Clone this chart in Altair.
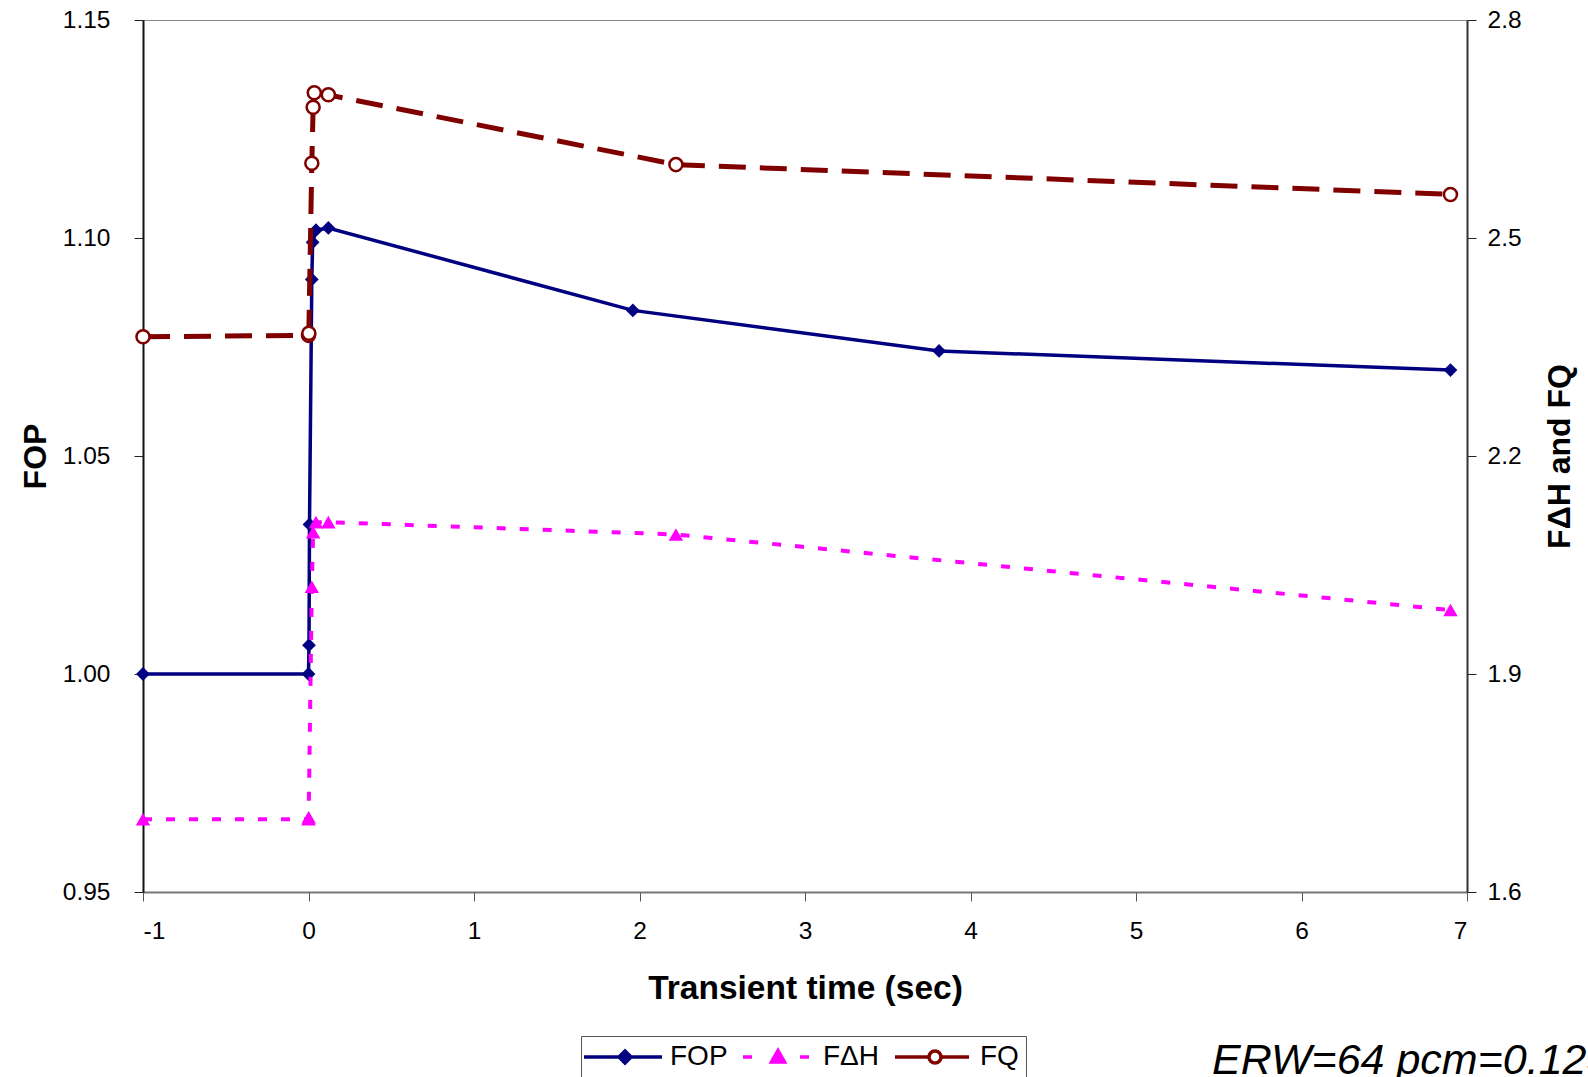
import altair as alt
import pandas as pd

# Transient time (s) and FOP, plotted on the left axis
fop_t = [-1, 0, 0.003, 0.006, 0.02, 0.025, 0.045, 0.12, 1.96, 3.81, 6.90]
fop_v = [1.000, 1.000, 1.0066, 1.0343, 1.0905, 1.0990, 1.1018, 1.1023, 1.0834, 1.0741, 1.0697]

# F-delta-H, plotted on the right axis
fdh_t = [-1, 0, 0.001, 0.02, 0.028, 0.045, 0.12, 2.22, 6.90]
fdh_v = [1.700, 1.700, 1.703, 2.020, 2.095, 2.109, 2.109, 2.092, 1.988]

# FQ, plotted on the right axis
fq_t = [-1, 0, 0.002, 0.02, 0.028, 0.035, 0.12, 2.22, 6.90]
fq_v = [2.364, 2.366, 2.369, 2.603, 2.680, 2.700, 2.697, 2.601, 2.560]

series_names = ["FOP", "F\u0394H", "FQ"]
series_stroke = ["#000080", "#FF00FF", "#800000"]
series_fill = ["#000080", "#FF00FF", "#FFFFFF"]
# legend keys: line + marker drawn as one symbol path each
series_keys = [
    "M-1.8,0H6.0M2.3,-0.6L2.9,0L2.3,0.6L1.7,0Z",
    "M-1.2,0H-0.3M4.5,0H5.4M2.3,-0.65L2.95,0.5L1.65,0.5Z",
    "M-1.7,0H1.7M2.9,0H5.7M1.7,0A0.6,0.6 0 1,1 2.9,0A0.6,0.6 0 1,1 1.7,0Z",
]

note_text = ["ERW=64 pcm=0.123"]

x_ticks = [-1, 0, 1, 2, 3, 4, 5, 6, 7]
left_ticks = [0.95, 1.00, 1.05, 1.10, 1.15]
right_ticks = [1.6, 1.9, 2.2, 2.5, 2.8]

FONT = "Liberation Sans"


def frame(t, v):
    return pd.DataFrame({"t": t, "v": v, "i": list(range(len(t)))})


fop_df = frame(fop_t, fop_v)
fdh_df = frame(fdh_t, fdh_v)
fq_df = frame(fq_t, fq_v)

x_enc = alt.X(
    "t:Q",
    scale=alt.Scale(domain=[-1, 7], nice=False, zero=False),
    axis=alt.Axis(
        values=x_ticks,
        labelExpr="'' + datum.value",
        title="Transient time (sec)",
        titleFontSize=33.5,
        titleFontWeight="bold",
        titlePadding=30,
        labelFontSize=24.5,
        labelPadding=18,
        tickSize=9,
        tickColor="#555555",
        domainColor="#777777",
        domainWidth=2,
        grid=False,
    ),
)

left_axis = alt.Axis(
    values=left_ticks,
    format=".2f",
    title="FOP",
    titleFontSize=32,
    titleFontWeight="bold",
    titlePadding=10,
    labelFontSize=24.5,
    labelPadding=24,
    tickSize=9,
    tickColor="#222222",
    domainColor="#111111",
    domainWidth=2,
    grid=False,
)

right_axis = alt.Axis(
    orient="right",
    values=right_ticks,
    format=".1f",
    title="F\u0394H and FQ",
    titleAngle=270,
    titleBaseline="top",
    titleFontSize=32,
    titleFontWeight="bold",
    titlePadding=23,
    labelFontSize=24.5,
    labelPadding=11,
    tickSize=9,
    tickColor="#222222",
    domainColor="#333333",
    domainWidth=2,
    grid=False,
)

y_left = alt.Y("v:Q", scale=alt.Scale(domain=[0.95, 1.15], nice=False, zero=False), axis=left_axis)
y_right = alt.Y("v:Q", scale=alt.Scale(domain=[1.6, 2.8], nice=False, zero=False), axis=right_axis)

# FOP: solid navy line with diamonds
fop_line = alt.Chart(fop_df).mark_line(color="#000080", strokeWidth=3.5).encode(
    x=x_enc, y=y_left, order="i:Q"
)
fop_pts = alt.Chart(fop_df).mark_point(
    shape="diamond", filled=True, size=190, color="#000080", opacity=1
).encode(x=x_enc, y=y_left)
left_layer = alt.layer(fop_line, fop_pts)

# F-delta-H: short magenta dashes with triangles
fdh_line = alt.Chart(fdh_df).mark_line(
    color="#FF00FF", strokeWidth=4, strokeDash=[9, 14]
).encode(x=x_enc, y=y_right, order="i:Q")
fdh_pts = alt.Chart(fdh_df).mark_point(
    shape="triangle-up", filled=True, size=210, color="#FF00FF", opacity=1
).encode(x=x_enc, y=y_right)

# FQ: long dark-red dashes with open circles
fq_line = alt.Chart(fq_df).mark_line(
    color="#800000", strokeWidth=5, strokeDash=[27, 14]
).encode(x=x_enc, y=y_right, order="i:Q")
fq_pts = alt.Chart(fq_df).mark_point(
    shape="circle", filled=True, size=170, fill="#FFFFFF", stroke="#800000",
    strokeWidth=2.5, opacity=1
).encode(x=x_enc, y=y_right)
right_layer = alt.layer(fdh_line, fdh_pts, fq_line, fq_pts)

# Legend: drawn from the series scales only (no visible marks)
legend_def = alt.Legend(
    title=None,
    orient="none",
    legendX=438,
    legendY=1016,
    direction="horizontal",
    symbolSize=400,
    symbolStrokeWidth=3.5,
    symbolOpacity=1,
    labelFontSize=28,
    labelFont=FONT,
    labelColor="#000000",
    labelOffset=54,
    columnPadding=8,
    padding=7,
    strokeColor="#555555",
    fillColor="#FFFFFF",
)
legend_df = pd.DataFrame({"series": series_names})
legend_layer = alt.Chart(legend_df).transform_filter("false").mark_point(filled=True).encode(
    shape=alt.Shape("series:N", scale=alt.Scale(domain=series_names, range=series_keys), legend=legend_def),
    stroke=alt.Stroke("series:N", scale=alt.Scale(domain=series_names, range=series_stroke), legend=legend_def),
    fill=alt.Fill("series:N", scale=alt.Scale(domain=series_names, range=series_fill), legend=legend_def),
)

note = alt.Chart(pd.DataFrame({"note": note_text})).mark_text(
    align="left", baseline="alphabetic", fontSize=43, fontStyle="italic", font=FONT, color="#000000"
).encode(text="note:N", x=alt.value(1069), y=alt.value(1054))

chart = (
    alt.layer(left_layer, right_layer, legend_layer, note)
    .resolve_scale(y="independent")
    .properties(
        width=1324,
        height=872,
        autosize=alt.AutoSizeParams(type="none"),
        padding={"left": 143, "top": 20, "right": 121, "bottom": 185},
        background="#FFFFFF",
    )
    .configure(font=FONT)
    .configure_axis(labelFont=FONT, titleFont=FONT, labelColor="#000000", titleColor="#000000")
    .configure_view(stroke="#888888", strokeWidth=1)
)

chart.save("out.html", embed_options={"renderer": "svg", "actions": False})
